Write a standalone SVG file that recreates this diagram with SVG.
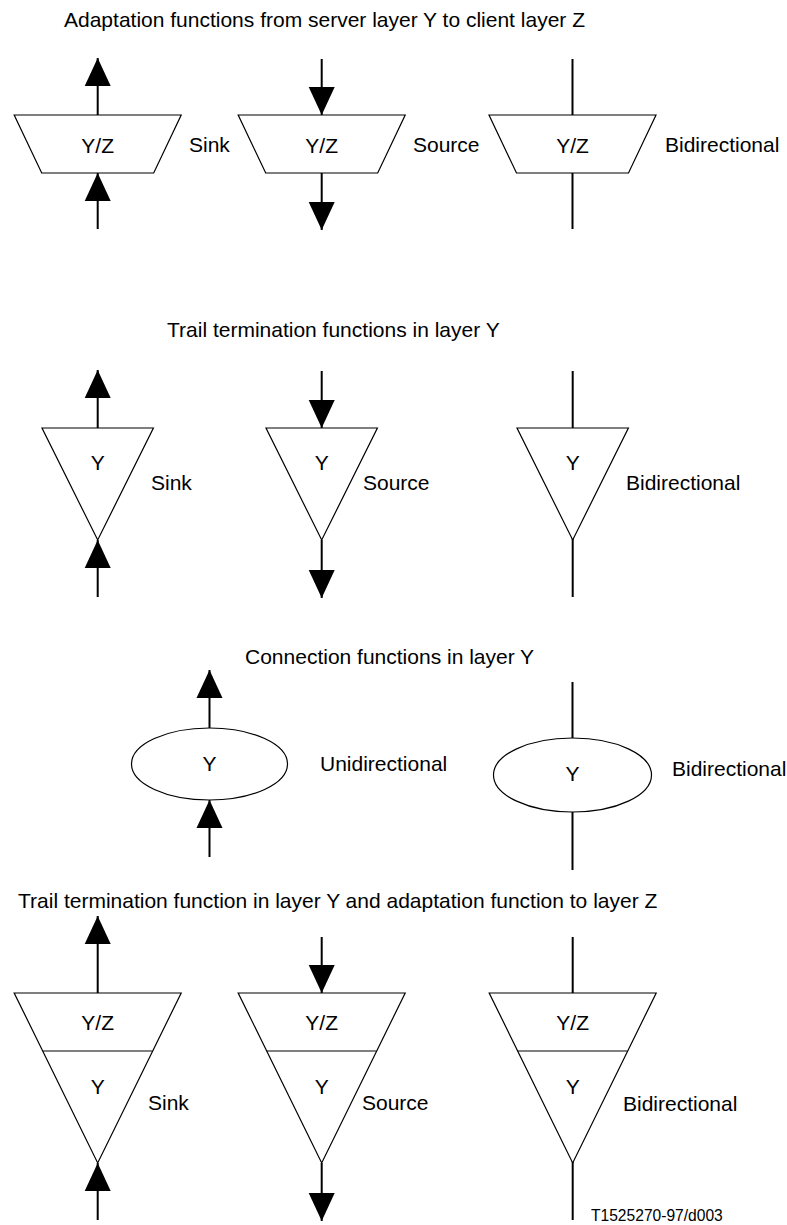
<svg xmlns="http://www.w3.org/2000/svg" width="787" height="1225" viewBox="0 0 787 1225">
<style>
text{font-family:"Liberation Sans",Arial,sans-serif;font-size:21px;fill:#000}
.c{text-anchor:middle}
.sh{fill:#fff;stroke:#000;stroke-width:1.2}
.ln{stroke:#000;stroke-width:2;fill:none}
.ar{stroke:#000;stroke-width:2;fill:none;marker-end:url(#ah)}
.sm{font-size:15.6px}
</style>
<defs>
<marker id="ah" markerUnits="userSpaceOnUse" markerWidth="28" markerHeight="26" refX="28" refY="13" orient="auto" overflow="visible">
<path d="M0,0 L28,13 L0,26 z" fill="#000"/>
</marker>
</defs>
<rect width="787" height="1225" fill="#fff"/>
<g id="headings">
<text x="64" y="27">Adaptation functions from server layer Y to client layer Z</text>
<text x="167" y="337">Trail termination functions in layer Y</text>
<text x="245" y="664">Connection functions in layer Y</text>
<text x="18" y="908">Trail termination function in layer Y and adaptation function to layer Z</text>
<text class="sm" x="591" y="1221">T1525270-97/d003</text>
</g>
<g id="connectors">
<line class="ar" x1="97.7" y1="115" x2="97.7" y2="58"/>
<line class="ar" x1="97.7" y1="229" x2="97.7" y2="173"/>
<line class="ar" x1="321.7" y1="59" x2="321.7" y2="115"/>
<line class="ar" x1="321.7" y1="173" x2="321.7" y2="230"/>
<line class="ln" x1="572.5" y1="59" x2="572.5" y2="229"/>
<line class="ar" x1="97.7" y1="428" x2="97.7" y2="370"/>
<line class="ar" x1="97.7" y1="597" x2="97.7" y2="540"/>
<line class="ar" x1="321.7" y1="371" x2="321.7" y2="428"/>
<line class="ar" x1="321.7" y1="540" x2="321.7" y2="598"/>
<line class="ln" x1="572.7" y1="371" x2="572.7" y2="597"/>
<line class="ar" x1="209.5" y1="728" x2="209.5" y2="670"/>
<line class="ar" x1="209.5" y1="857" x2="209.5" y2="800"/>
<line class="ln" x1="572.5" y1="682" x2="572.5" y2="870"/>
<line class="ar" x1="97.7" y1="993" x2="97.7" y2="916"/>
<line class="ar" x1="97.7" y1="1220" x2="97.7" y2="1163"/>
<line class="ar" x1="321.7" y1="937" x2="321.7" y2="993"/>
<line class="ar" x1="321.7" y1="1163" x2="321.7" y2="1221"/>
<line class="ln" x1="572.7" y1="937" x2="572.7" y2="1220"/>
</g>
<g id="adapt-sink">
<polygon class="sh" points="14.2,115 181.2,115 153.7,173 41.7,173"/>
<text class="c" x="97.7" y="153">Y/Z</text>
<text x="189" y="152">Sink</text>
</g>
<g id="adapt-source">
<polygon class="sh" points="238.2,115 405.2,115 377.7,173 265.7,173"/>
<text class="c" x="321.7" y="153">Y/Z</text>
<text x="413" y="152">Source</text>
</g>
<g id="adapt-bidir">
<polygon class="sh" points="489,115 656,115 628.5,173 516.5,173"/>
<text class="c" x="572.5" y="153">Y/Z</text>
<text x="665" y="152">Bidirectional</text>
</g>
<g id="tt-sink">
<polygon class="sh" points="42,428 153.4,428 97.7,540"/>
<text class="c" x="97.7" y="470">Y</text>
<text x="151" y="490">Sink</text>
</g>
<g id="tt-source">
<polygon class="sh" points="266,428 377.4,428 321.7,540"/>
<text class="c" x="321.7" y="470">Y</text>
<text x="363" y="490">Source</text>
</g>
<g id="tt-bidir">
<polygon class="sh" points="517,428 628.4,428 572.7,540"/>
<text class="c" x="572.7" y="470">Y</text>
<text x="626" y="490">Bidirectional</text>
</g>
<g id="conn-uni">
<ellipse class="sh" cx="209.5" cy="764" rx="78" ry="36"/>
<text class="c" x="209.5" y="771">Y</text>
<text x="320" y="771">Unidirectional</text>
</g>
<g id="conn-bidir">
<ellipse class="sh" cx="572.5" cy="775" rx="79" ry="37"/>
<text class="c" x="572.5" y="781">Y</text>
<text x="672" y="776">Bidirectional</text>
</g>
<g id="ttad-sink">
<polygon class="sh" points="14.2,993 181.2,993 97.7,1163"/>
<line class="sh" x1="42.7" y1="1051" x2="152.7" y2="1051"/>
<text class="c" x="97.7" y="1030">Y/Z</text>
<text class="c" x="97.7" y="1094">Y</text>
<text x="148" y="1110">Sink</text>
</g>
<g id="ttad-source">
<polygon class="sh" points="238.2,993 405.2,993 321.7,1163"/>
<line class="sh" x1="266.7" y1="1051" x2="376.7" y2="1051"/>
<text class="c" x="321.7" y="1030">Y/Z</text>
<text class="c" x="321.7" y="1094">Y</text>
<text x="362" y="1110">Source</text>
</g>
<g id="ttad-bidir">
<polygon class="sh" points="489.2,993 656.2,993 572.7,1163"/>
<line class="sh" x1="517.7" y1="1051" x2="627.7" y2="1051"/>
<text class="c" x="572.7" y="1030">Y/Z</text>
<text class="c" x="572.7" y="1094">Y</text>
<text x="623" y="1111">Bidirectional</text>
</g>
</svg>
